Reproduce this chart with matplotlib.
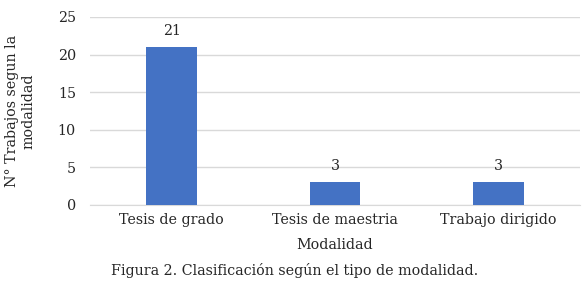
import matplotlib.pyplot as plt

plt.rcParams['font.family'] = ['DejaVu Serif']

categorias = ["Tesis de grado", "Tesis de maestria", "Trabajo dirigido"]
trabajos = [21, 3, 3]

fig = plt.figure(figsize=(5.84, 2.83), dpi=100)
ax = fig.add_axes([0.154, 0.276, 0.839, 0.664])

pos = range(len(categorias))
bars = ax.bar(pos, trabajos, width=0.31, color="#4472C4", zorder=3)
for b, v in zip(bars, trabajos):
    ax.text(b.get_x() + b.get_width() / 2, v + 1.2, str(v), ha="center", va="bottom",
            fontsize=10.3, color="#262626")

ax.set_xlim(-0.5, len(categorias) - 0.5)
ax.set_ylim(0, 25)
ax.set_yticks([0, 5, 10, 15, 20, 25])
ax.set_xticks(list(pos))
ax.set_xticklabels(categorias)
ax.tick_params(axis="both", length=0, labelsize=10.3, colors="#262626")
ax.tick_params(axis="y", pad=10)
ax.tick_params(axis="x", pad=6)
ax.grid(axis="y", color="#d9d9d9", linewidth=1, zorder=0)
for s in ["top", "right", "left"]:
    ax.spines[s].set_visible(False)
ax.spines["bottom"].set_color("#d9d9d9")

ax.set_xlabel("Modalidad", fontsize=10.3, color="#262626", labelpad=8)
ax.set_ylabel("N° Trabajos segun la\nmodalidad", fontsize=10.3, color="#262626", labelpad=16)

fig.text(0.19, 0.03, "Figura 2. Clasificación según el tipo de modalidad.", fontsize=10.3,
         color="#262626")

fig.savefig("out.png", dpi=100)
